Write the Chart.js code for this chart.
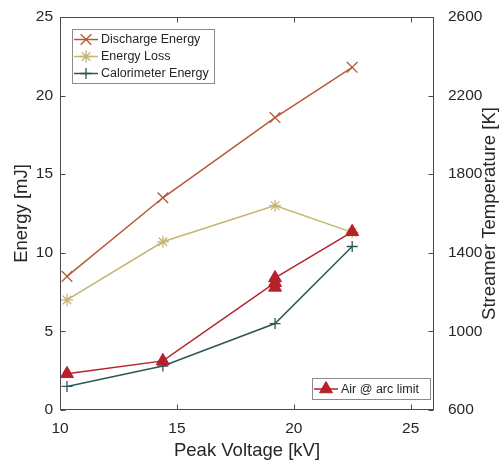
<!DOCTYPE html>
<html>
<head>
<meta charset="utf-8">
<script src="https://cdn.jsdelivr.net/npm/chart.js@4.4.0/dist/chart.umd.min.js"></script>
<style>
html, body { margin: 0; padding: 0; background: #fff; }
</style>
</head>
<body>
<canvas id="graficoEnergia" width="504" height="462"></canvas>
<script>
// datos
var voltaje = [10.3, 14.4, 19.2, 22.5];
var descarga = [8.5, 13.5, 18.6, 21.8];
var perdida = [7.0, 10.7, 13.0, 11.3];
var calorimetro = [1.5, 2.8, 5.5, 10.4];
var voltajeAire = [10.3, 14.4, 19.2, 19.2, 19.2, 22.5];
var tempAire = [784, 850, 1248, 1224, 1272, 1507];

var ticksX = [10, 15, 20, 25];
var ticksEnergia = [0, 5, 10, 15, 20, 25];
var ticksTemp = [600, 1000, 1400, 1800, 2200, 2600];

var fuente = "'Liberation Sans', Arial, Helvetica, sans-serif";
var colorTexto = '#262626';
var colorEje = '#4a4a4a';

function puntos(xs, ys) {
    return xs.map(function (x, i) { return { x: x, y: ys[i] }; });
}

// marco de ejes con marcas hacia adentro, titulo derecho y las dos leyendas
var marcoEjes = {
    id: 'marcoEjes',
    afterDraw: function (chart) {
        var ctx = chart.ctx;
        var a = chart.chartArea;
        var sx = chart.scales.x, sy = chart.scales.y, sy2 = chart.scales.y2;
        var L = Math.round(a.left) + 0.5, R = Math.round(a.right) - 0.5;
        var T = Math.round(a.top) + 0.5, B = Math.round(a.bottom) - 0.5;
        ctx.save();
        ctx.strokeStyle = colorEje;
        ctx.lineWidth = 1;
        ctx.strokeRect(L, T, R - L, B - T);
        ctx.beginPath();
        ticksX.forEach(function (v) {
            var px = Math.round(sx.getPixelForValue(v)) + 0.5;
            ctx.moveTo(px, B); ctx.lineTo(px, B - 5);
            ctx.moveTo(px, T); ctx.lineTo(px, T + 5);
        });
        ticksEnergia.forEach(function (v) {
            var py = Math.round(sy.getPixelForValue(v)) + 0.5;
            ctx.moveTo(L, py); ctx.lineTo(L + 5, py);
        });
        ticksTemp.forEach(function (v) {
            var py = Math.round(sy2.getPixelForValue(v)) + 0.5;
            ctx.moveTo(R, py); ctx.lineTo(R - 5, py);
        });
        ctx.stroke();

        // titulo del eje derecho, leido de abajo hacia arriba
        ctx.save();
        ctx.translate(490, (a.top + a.bottom) / 2);
        ctx.rotate(-Math.PI / 2);
        ctx.fillStyle = colorTexto;
        ctx.font = '18.5px ' + fuente;
        ctx.textAlign = 'center';
        ctx.textBaseline = 'middle';
        ctx.fillText('Streamer Temperature [K]', 0, 0);
        ctx.restore();

        // leyendas
        var ds = chart.data.datasets;
        function caja(x0, y0, x1, y1) {
            ctx.fillStyle = '#fff';
            ctx.fillRect(x0, y0, x1 - x0, y1 - y0);
            ctx.strokeStyle = '#8c8c8c';
            ctx.lineWidth = 1;
            ctx.strokeRect(x0 + 0.5, y0 + 0.5, x1 - x0, y1 - y0);
        }
        function entrada(d, xl, yc) {
            ctx.strokeStyle = d.borderColor;
            ctx.fillStyle = d.pointBackgroundColor || d.borderColor;
            ctx.lineWidth = d.borderWidth;
            ctx.beginPath();
            ctx.moveTo(xl, yc); ctx.lineTo(xl + 24, yc);
            ctx.stroke();
            ctx.lineWidth = d.pointBorderWidth;
            Chart.helpers.drawPoint(ctx, {
                pointStyle: d.pointStyle, radius: d.pointRadius,
                rotation: 0, borderWidth: d.pointBorderWidth
            }, xl + 12, yc);
            ctx.fillStyle = colorTexto;
            ctx.font = '12.5px ' + fuente;
            ctx.textBaseline = 'middle';
            ctx.textAlign = 'left';
            ctx.fillText(d.label, xl + 27, yc + 0.5);
        }
        caja(72, 29, 214, 83);
        entrada(ds[1], 74, 39.5);
        entrada(ds[2], 74, 56.5);
        entrada(ds[3], 74, 73.5);
        caja(312, 378, 430, 399);
        entrada(ds[0], 314, 389);
        ctx.restore();
    }
};

var fuenteTicks = { family: fuente, size: 15.5 };
var fuenteTitulo = { family: fuente, size: 18.5 };
function sinComas(v) { return String(v); }
function sinRelleno(s) {
    s.paddingTop = 0; s.paddingBottom = 0;
    s.paddingLeft = 0; s.paddingRight = 0;
}

var ctx = document.getElementById('graficoEnergia').getContext('2d');
var chart = new Chart(ctx, {
    type: 'line',
    data: {
        datasets: [{
            label: 'Air @ arc limit',
            data: puntos(voltajeAire, tempAire),
            yAxisID: 'y2',
            borderColor: '#B5202A',
            pointBackgroundColor: '#B5202A',
            pointBorderColor: '#B5202A',
            pointStyle: 'triangle',
            pointRadius: 7.5,
            pointBorderWidth: 1,
            borderWidth: 1.5,
            order: 0
        }, {
            label: 'Discharge Energy',
            data: puntos(voltaje, descarga),
            yAxisID: 'y',
            borderColor: '#B55A35',
            pointStyle: 'crossRot',
            pointRadius: 7.5,
            pointBorderWidth: 1.3,
            borderWidth: 1.5,
            order: 1
        }, {
            label: 'Energy Loss',
            data: puntos(voltaje, perdida),
            yAxisID: 'y',
            borderColor: '#C4B670',
            pointStyle: 'star',
            pointRadius: 6,
            pointBorderWidth: 1.3,
            borderWidth: 1.5,
            order: 2
        }, {
            label: 'Calorimeter Energy',
            data: puntos(voltaje, calorimetro),
            yAxisID: 'y',
            borderColor: '#2F5656',
            pointStyle: 'cross',
            pointRadius: 5.5,
            pointBorderWidth: 1.3,
            borderWidth: 1.5,
            order: 3
        }]
    },
    options: {
        responsive: false,
        animation: false,
        devicePixelRatio: 1,
        layout: { padding: { top: 17, right: 0, left: 0, bottom: 0 } },
        plugins: {
            legend: { display: false },
            tooltip: { enabled: false }
        },
        scales: {
            x: {
                type: 'linear',
                min: 10, max: 26,
                grid: { display: false, drawTicks: false },
                border: { display: false },
                ticks: {
                    stepSize: 5, includeBounds: false, padding: 9,
                    color: colorTexto, font: fuenteTicks, callback: sinComas
                },
                title: {
                    display: true, text: 'Peak Voltage [kV]', color: colorTexto,
                    font: fuenteTitulo, padding: { top: 0, bottom: 0 }
                },
                afterFit: function (s) { s.height = 52; sinRelleno(s); }
            },
            y: {
                position: 'left',
                min: 0, max: 25,
                grid: { display: false, drawTicks: false },
                border: { display: false },
                ticks: {
                    stepSize: 5, padding: 7,
                    color: colorTexto, font: fuenteTicks, callback: sinComas
                },
                title: {
                    display: true, text: 'Energy [mJ]', color: colorTexto,
                    font: fuenteTitulo, padding: { top: 11, bottom: 0 }
                },
                afterFit: function (s) { s.width = 60; sinRelleno(s); }
            },
            y2: {
                position: 'right',
                min: 600, max: 2600,
                grid: { display: false, drawTicks: false },
                border: { display: false },
                ticks: {
                    stepSize: 400, padding: 14,
                    color: colorTexto, font: fuenteTicks, callback: sinComas
                },
                afterFit: function (s) { s.width = 70; sinRelleno(s); }
            }
        }
    },
    plugins: [marcoEjes]
});
</script>
</body>
</html>
